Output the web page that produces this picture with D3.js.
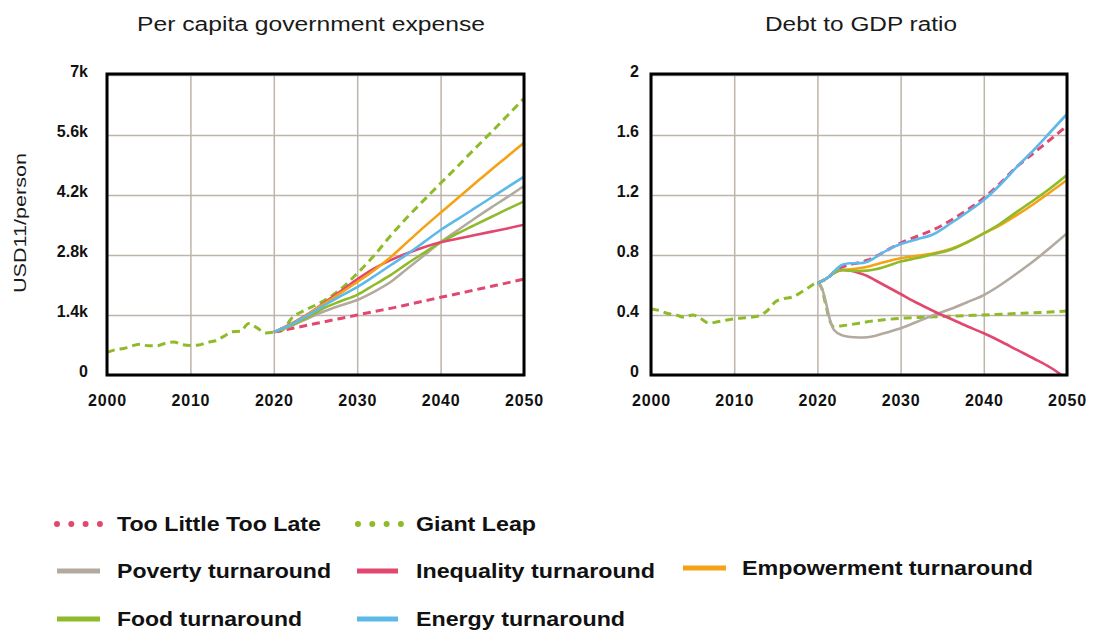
<!DOCTYPE html>
<html><head><meta charset="utf-8">
<script src="https://cdn.jsdelivr.net/npm/d3@7"></script>
<style>
html,body{margin:0;padding:0;background:#fff;}
svg{display:block;font-family:"Liberation Sans",Arial,sans-serif;}
</style></head>
<body>
<svg id="chart" width="1093" height="635"></svg>
<script>
// ---------- DATA ----------
const histYears = d3.range(2000, 2020); // 2000..2019
const projYearsL = [2020,2021,2021.5,2022,2022.5,2023,2024,2025,2026,2028,2030,2032,2034,2036,2038,2040,2042,2044,2046,2048,2050];
const projYearsR = [2020,2020.5,2021,2021.5,2022,2023,2024,2025,2026,2027,2028,2030,2032,2034,2036,2038,2040,2042,2044,2046,2048,2050];

// Per capita government expense (USD11/person)
const giantLeapExpHist = [530,590,620,680,720,680,680,740,770,710,690,700,760,800,900,1010,1020,1200,1100,980];
const giantLeapExp   = [1000,1040,1150,1290,1390,1440,1540,1630,1730,2000,2370,2780,3250,3680,4080,4473,4860,5260,5650,6050,6456];
const tooLittleExp   = [1000,1040,1060,1080,1100,1120,1160,1200,1240,1320,1400,1480,1555,1640,1725,1813,1895,1980,2065,2150,2240];
const inequalityExp  = [1000,1090,1140,1190,1240,1295,1410,1540,1680,1950,2230,2480,2680,2840,2980,3096,3180,3260,3340,3420,3507];
const empowermentExp = [1000,1085,1130,1180,1230,1285,1400,1530,1660,1910,2170,2440,2750,3100,3450,3787,4120,4450,4780,5100,5420];
const energyExp      = [1000,1085,1125,1170,1220,1275,1380,1500,1620,1840,2050,2300,2560,2820,3100,3383,3630,3880,4130,4380,4627];
const foodExp        = [1000,1075,1110,1150,1195,1245,1340,1450,1560,1720,1870,2100,2330,2600,2850,3096,3300,3490,3680,3870,4052];
const povertyExp     = [1000,1070,1105,1140,1180,1225,1310,1400,1480,1620,1750,1940,2170,2480,2790,3096,3370,3640,3900,4150,4410];

// Debt to GDP ratio
const giantLeapDebtHist = [0.44,0.43,0.41,0.40,0.385,0.40,0.375,0.345,0.355,0.365,0.375,0.38,0.385,0.395,0.43,0.49,0.51,0.52,0.55,0.585];
const giantLeapDebt   = [0.615,0.58,0.47,0.36,0.322,0.328,0.336,0.345,0.355,0.362,0.368,0.378,0.383,0.388,0.392,0.396,0.40,0.405,0.41,0.415,0.42,0.427];
const tooLittleDebt   = [0.615,0.625,0.64,0.66,0.685,0.72,0.738,0.748,0.765,0.79,0.82,0.88,0.925,0.97,1.03,1.10,1.18,1.28,1.39,1.48,1.57,1.66];
const energyDebt      = [0.615,0.625,0.64,0.66,0.69,0.735,0.745,0.745,0.755,0.785,0.82,0.873,0.905,0.94,1.01,1.085,1.167,1.27,1.389,1.50,1.62,1.74];
const empowermentDebt = [0.615,0.625,0.64,0.66,0.68,0.70,0.705,0.712,0.722,0.737,0.752,0.778,0.795,0.812,0.84,0.885,0.944,1.0,1.067,1.14,1.22,1.30];
const foodDebt        = [0.615,0.625,0.64,0.66,0.68,0.70,0.695,0.693,0.696,0.705,0.72,0.756,0.78,0.807,0.835,0.885,0.944,1.01,1.089,1.165,1.245,1.333];
const inequalityDebt  = [0.615,0.625,0.64,0.66,0.68,0.70,0.695,0.68,0.66,0.63,0.60,0.54,0.48,0.425,0.375,0.325,0.278,0.225,0.167,0.11,0.05,-0.025];
const povertyDebt     = [0.615,0.585,0.49,0.37,0.30,0.264,0.253,0.25,0.252,0.262,0.278,0.311,0.355,0.40,0.44,0.485,0.533,0.60,0.678,0.76,0.85,0.944];

const xTicks = [2000,2010,2020,2030,2040,2050];
const yTicksL = [0,1400,2800,4200,5600,7000];
const yTickLabelsL = ["0","1.4k","2.8k","4.2k","5.6k","7k"];
const yTicksR = [0,0.4,0.8,1.2,1.6,2];
const yTickLabelsR = ["0","0.4","0.8","1.2","1.6","2"];
const titles = ["Per capita government expense","Debt to GDP ratio"];
const yLabelL = "USD11/person";

const colors = {
  tltl:"#e2476f", giant:"#8fbb2a", poverty:"#b3aa9f", inequality:"#e2476f",
  empowerment:"#f5a316", food:"#8fbb2a", energy:"#5db9e9"
};
const legendItems = [
  {key:"tltl", label:"Too Little Too Late", dotted:true},
  {key:"giant", label:"Giant Leap", dotted:true},
  {key:"poverty", label:"Poverty turnaround"},
  {key:"inequality", label:"Inequality turnaround"},
  {key:"empowerment", label:"Empowerment turnaround"},
  {key:"food", label:"Food turnaround"},
  {key:"energy", label:"Energy turnaround"}
];

// ---------- DRAW ----------
const svg = d3.select("#chart");
const GRID = "#bdb4aa";

function panel(cfg){
  const x = d3.scaleLinear().domain([2000,2050]).range([cfg.x0, cfg.x1]);
  const y = d3.scaleLinear().domain(cfg.yDomain).range([375, 75]);
  const g = svg.append("g");
  const clipId = "clip"+cfg.id;
  svg.append("clipPath").attr("id",clipId).append("rect")
    .attr("x",cfg.x0).attr("y",75).attr("width",cfg.x1-cfg.x0).attr("height",300);

  // grid
  g.append("g").attr("transform",`translate(0,375)`)
    .call(d3.axisBottom(x).tickValues(xTicks).tickSize(-300).tickFormat(""))
    .call(s=>{s.select(".domain").remove(); s.selectAll("line").attr("stroke",GRID).attr("stroke-width",1.5);});
  g.append("g").attr("transform",`translate(${cfg.x0},0)`)
    .call(d3.axisLeft(y).tickValues(cfg.yTicks).tickSize(-(cfg.x1-cfg.x0)).tickFormat(""))
    .call(s=>{s.select(".domain").remove(); s.selectAll("line").attr("stroke",GRID).attr("stroke-width",1.5);});

  // tick labels
  g.append("g").attr("transform",`translate(0,375)`)
    .call(d3.axisBottom(x).tickValues(xTicks).tickSize(0).tickPadding(20).tickFormat(d3.format("d")))
    .call(s=>{s.select(".domain").remove();
      s.selectAll("text").attr("font-size",16).attr("font-weight","bold").attr("fill","#111")
       .attr("letter-spacing","0.8px").attr("font-family","'Liberation Sans',Arial,sans-serif");});
  g.append("g").attr("transform",`translate(${cfg.x0},0)`)
    .call(d3.axisLeft(y).tickValues(cfg.yTicks).tickSize(0).tickPadding(cfg.labelPad)
      .tickFormat((d,i)=>cfg.yLabels[i]))
    .call(s=>{s.select(".domain").remove();
      s.selectAll("text").attr("font-size",16).attr("font-weight","bold").attr("fill","#111")
       .attr("dy","0.08em").attr("font-family","'Liberation Sans',Arial,sans-serif");});

  // lines
  const line = d3.line().x(d=>x(d[0])).y(d=>y(d[1])).curve(d3.curveMonotoneX);
  const lg = g.append("g").attr("clip-path",`url(#${clipId})`);
  cfg.series.forEach(s=>{
    const pts = s.years.map((yr,i)=>[yr, s.values[i]]);
    lg.append("path").datum(pts).attr("d",line)
      .attr("fill","none").attr("stroke",colors[s.key])
      .attr("stroke-width", s.dashed?3:2.6)
      .attr("stroke-dasharray", s.dashed?"8,5":null)
      .attr("stroke-linejoin","round");
  });

  // border
  g.append("rect").attr("x",cfg.x0).attr("y",74).attr("width",cfg.x1-cfg.x0).attr("height",301)
    .attr("fill","none").attr("stroke","#000").attr("stroke-width",3);

  // title
  g.append("text").attr("x",cfg.titleX).attr("y",31).attr("text-anchor","middle")
    .attr("font-size",20).attr("fill","#1a1a1a")
    .attr("textLength",cfg.titleW).attr("lengthAdjust","spacingAndGlyphs")
    .text(cfg.title);
}

const histPlusL = histYears.concat(projYearsL);
const histPlusR = histYears.concat(projYearsR);

panel({id:"L", x0:107, x1:524, yDomain:[0,7000], yTicks:yTicksL, yLabels:yTickLabelsL, labelPad:19,
  title:titles[0], titleX:311, titleW:348,
  series:[
    {key:"giant", years:histPlusL, values:giantLeapExpHist.concat(giantLeapExp), dashed:true},
    {key:"tltl", years:projYearsL, values:tooLittleExp, dashed:true},
    {key:"poverty", years:projYearsL, values:povertyExp},
    {key:"food", years:projYearsL, values:foodExp},
    {key:"inequality", years:projYearsL, values:inequalityExp},
    {key:"empowerment", years:projYearsL, values:empowermentExp},
    {key:"energy", years:projYearsL, values:energyExp}
  ]});

panel({id:"R", x0:651, x1:1067, yDomain:[0,2], yTicks:yTicksR, yLabels:yTickLabelsR, labelPad:12,
  title:titles[1], titleX:861, titleW:192,
  series:[
    {key:"giant", years:histPlusR, values:giantLeapDebtHist.concat(giantLeapDebt), dashed:true},
    {key:"poverty", years:projYearsR, values:povertyDebt},
    {key:"inequality", years:projYearsR, values:inequalityDebt},
    {key:"tltl", years:projYearsR, values:tooLittleDebt, dashed:true},
    {key:"empowerment", years:projYearsR, values:empowermentDebt},
    {key:"food", years:projYearsR, values:foodDebt},
    {key:"energy", years:projYearsR, values:energyDebt}
  ]});

// y-axis label
svg.append("text").attr("transform","translate(26,223) rotate(-90)")
  .attr("text-anchor","middle").attr("font-size",17).attr("fill","#1a1a1a")
  .attr("textLength",140).attr("lengthAdjust","spacingAndGlyphs")
  .text(yLabelL);

// ---------- LEGEND ----------
const legendPos = [
  {sx0:57, sx1:101, tx:117, y:524, tw:204},
  {sx0:358, sx1:401, tx:416, y:524, tw:120},
  {sx0:57, sx1:100, tx:117, y:571, tw:214},
  {sx0:357, sx1:398, tx:416, y:571, tw:239},
  {sx0:683, sx1:726, tx:742, y:568, tw:291},
  {sx0:57, sx1:100, tx:117, y:619, tw:185},
  {sx0:357, sx1:398, tx:416, y:619, tw:209}
];
const leg = svg.append("g");
legendItems.forEach((it,i)=>{
  const p = legendPos[i];
  if(it.dotted){
    leg.append("line").attr("x1",p.sx0).attr("x2",p.sx1).attr("y1",p.y).attr("y2",p.y)
      .attr("stroke",colors[it.key]).attr("stroke-width",6).attr("stroke-linecap","round")
      .attr("stroke-dasharray","0,14.3");
  } else {
    leg.append("line").attr("x1",p.sx0).attr("x2",p.sx1).attr("y1",p.y).attr("y2",p.y)
      .attr("stroke",colors[it.key]).attr("stroke-width",5);
  }
  leg.append("text").attr("x",p.tx).attr("y",p.y+7).attr("font-size",20).attr("font-weight","bold")
    .attr("fill","#111").attr("textLength",p.tw).attr("lengthAdjust","spacingAndGlyphs")
    .text(it.label);
});
</script>
</body></html>
